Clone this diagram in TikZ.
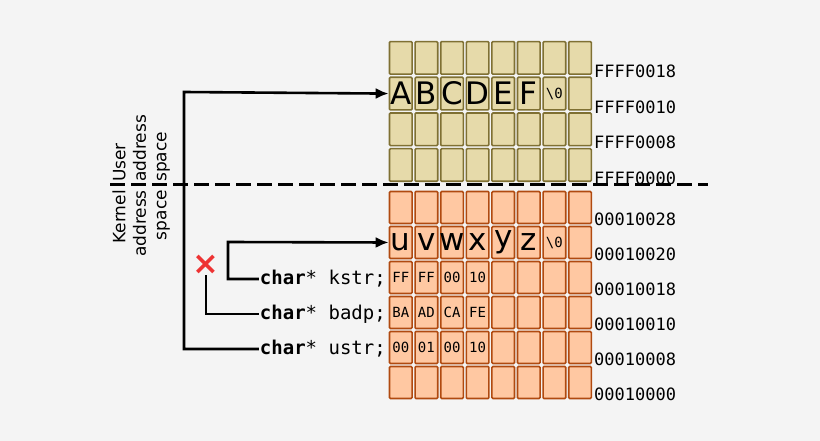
\documentclass[tikz,border=0pt]{standalone}
\usepackage{fontspec}
\setmainfont{DejaVu Sans}
\setmonofont{DejaVu Sans Mono}
\usetikzlibrary{positioning,arrows.meta}
\definecolor{bgcol}{HTML}{F4F4F4}
\definecolor{userfill}{HTML}{E6DAAA}
\definecolor{userdraw}{HTML}{7F7033}
\definecolor{kernfill}{HTML}{FFC8A2}
\definecolor{kerndraw}{HTML}{B04A10}
\definecolor{crosscol}{HTML}{EE3333}
\tikzset{
  ucell/.style={draw=userdraw,fill=userfill,line width=1.6pt,rounded corners=1pt,
    minimum width=22.6pt,minimum height=32.6pt,inner sep=0pt},
  kcell/.style={draw=kerndraw,fill=kernfill,line width=1.6pt,rounded corners=1pt,
    minimum width=22.6pt,minimum height=32pt,inner sep=0pt},
  addr/.style={font=\ttfamily\fontsize{17}{20}\selectfont,anchor=south west,inner sep=1pt},
  big/.style={font=\fontsize{31}{36}\selectfont},
  hex/.style={font=\ttfamily\fontsize{14}{16}\selectfont},
  code/.style={font=\ttfamily\fontsize{19}{22}\selectfont,anchor=east,inner sep=1pt},
  side/.style={rotate=90,font=\fontsize{17}{20.5}\selectfont,inner sep=0pt},
  ptr/.style={line width=2.6pt,-{Latex[length=13pt,width=11pt]}}
}
\begin{document}
\begin{tikzpicture}[x=1pt,y=-1pt]
\fill[bgcol] (0,0) rectangle (820,441);
\useasboundingbox (0,0) rectangle (820,441);

% user memory
\foreach \r in {0,...,3}
  \foreach \c in {0,...,7}
    \node[ucell] (u-\r-\c) at (400.8+25.6*\c,57.9+35.7*\r) {};
\foreach \a [count=\r from 0] in {FFFF0018,FFFF0010,FFFF0008,FFFF0000}
  \node[addr] (ua\r) at (593,79+35.7*\r) {\a};

% kernel memory
\foreach \r in {0,...,5}
  \foreach \c in {0,...,7}
    \node[kcell] (k-\r-\c) at (400.8+25.6*\c,207.5+35*\r) {};
\foreach \a [count=\r from 0] in {00010028,00010020,00010018,00010010,00010008,00010000}
  \node[addr] (ka\r) at (593,227+35*\r) {\a};

% strings
\foreach \t [count=\c from 0] in {A,B,C,D,E,F}
  \node[big] at (u-1-\c) {\t};
\node[hex] at (u-1-6) {\textbackslash0};
\foreach \t [count=\c from 0] in {u,v,w,x,y,z}
  \node[big] at (k-1-\c) {\t};
\node[hex] at (k-1-6) {\textbackslash0};
\foreach \t [count=\c from 0] in {FF,FF,00,10}
  \node[hex] at (k-2-\c) {\t};
\foreach \t [count=\c from 0] in {BA,AD,CA,FE}
  \node[hex] at (k-3-\c) {\t};
\foreach \t [count=\c from 0] in {00,01,00,10}
  \node[hex] at (k-4-\c) {\t};

% pointers
\node[code] (kstr) at (387,279) {\textbf{char}* kstr;};
\node[code] (badp) at (387,314) {\textbf{char}* badp;};
\node[code] (ustr) at (387,349) {\textbf{char}* ustr;};

% boundary
\draw[line width=3pt,dash pattern=on 15pt off 6pt] (110,185) -- (708,185);
\node[side,anchor=south west,align=left] (user) at (170,182) {User\\address\\space};
\node[side,anchor=south east,align=right] (kern) at (170,190) {Kernel\\address\\space};

\node[text=crosscol,font=\bfseries\fontsize{32}{32}\selectfont,inner sep=0pt] (bad) at (206,265) {×};
\draw[ptr] (ustr.west) -- ++(-12,0) -| (184,92) -- (u-1-0.west);
\draw[ptr] (kstr.west) -- ++(-12,0) -| (228,242) -- (k-1-0.west);
\draw[line width=2.6pt] (badp.west) -- ++(-9,0) -| (bad.south);
\end{tikzpicture}
\end{document}
